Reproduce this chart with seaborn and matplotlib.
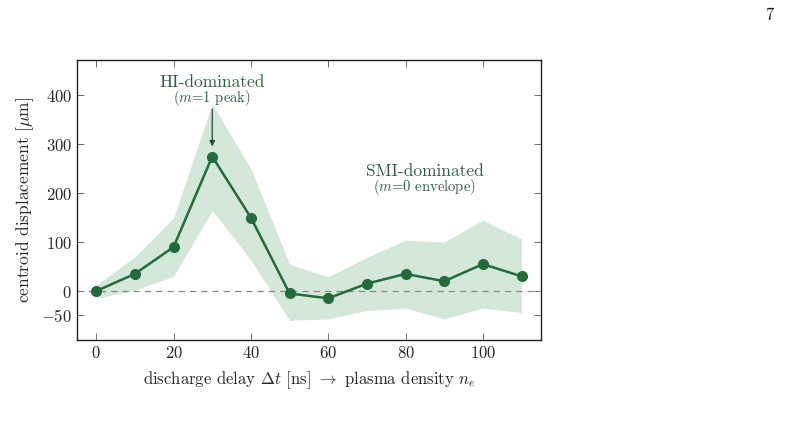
import numpy as np
import pandas as pd
import matplotlib
matplotlib.use("Agg")
import matplotlib.pyplot as plt
import seaborn as sns

# discharge delay [ns] and centroid displacement [um]
delay = [0, 10, 20, 30, 40, 50, 60, 70, 80, 90, 100, 110]
disp_mean = [0, 35, 90, 275, 150, -5, -15, 15, 35, 20, 55, 30]
disp_upper = [12, 70, 150, 383, 250, 55, 29, 69, 104, 100, 145, 106]
disp_lower = [-15, 2, 30, 165, 63, -60, -57, -40, -35, -57, -35, -44]

y_ticks = [-50, 0, 100, 200, 300, 400]
x_ticks = [0, 20, 40, 60, 80, 100]

line_col = "#246b3b"
band_col = "#d3e8d8"
text_col = "#2f5e3f"

sns.set_style("ticks")
plt.rcParams["font.family"] = ["cmr10", "DejaVu Serif"]
plt.rcParams["mathtext.fontset"] = "cm"
plt.rcParams["axes.formatter.use_mathtext"] = True
plt.rcParams["axes.unicode_minus"] = True

df = pd.DataFrame({"delay": delay, "disp": disp_mean})

fig = plt.figure(figsize=(7.85, 4.33), dpi=100)
ax = fig.add_axes([0.098, 0.215, 0.591, 0.646])

ax.fill_between(delay, disp_lower, disp_upper, color=band_col, lw=0, zorder=1)
ax.axhline(0, color="#888888", ls=(0, (5, 4)), lw=0.9, zorder=2)
sns.lineplot(data=df, x="delay", y="disp", ax=ax, color=line_col, lw=1.8,
             marker="o", markersize=8, markeredgewidth=0, zorder=3)

ax.set_xlim(-5, 115)
ax.set_ylim(-100, 472)
ax.set_xticks(x_ticks)
ax.set_yticks(y_ticks)
ax.tick_params(direction="in", top=True, right=True, labelsize=12,
               length=5, width=0.6, color="#555555")
for s in ax.spines.values():
    s.set_linewidth(1.0)
    s.set_color("#222222")

ax.set_xlabel(r"discharge delay $\Delta t$ [ns] $\rightarrow$ plasma density $n_e$",
              fontsize=12, labelpad=6)
ax.set_ylabel(r"centroid displacement [$\mu$m]", fontsize=12.5, labelpad=4)

ax.annotate("", xy=(30, 290), xytext=(30, 378),
            arrowprops=dict(arrowstyle="-|>", color="#1f4a2c", lw=0.9,
                            mutation_scale=8))
ax.text(30, 427, "HI-dominated", ha="center", va="center", fontsize=12.5, color=text_col)
ax.text(30, 394, r"($m$=1 peak)", ha="center", va="center", fontsize=10.5, color=text_col)
ax.text(85, 245, "SMI-dominated", ha="center", va="center", fontsize=12.5, color=text_col)
ax.text(85, 212, r"($m$=0 envelope)", ha="center", va="center", fontsize=10.5, color=text_col)

fig.text(0.985, 0.965, "7", ha="right", va="center", fontsize=12, color="#222222")

fig.savefig("out.png", dpi=100)
